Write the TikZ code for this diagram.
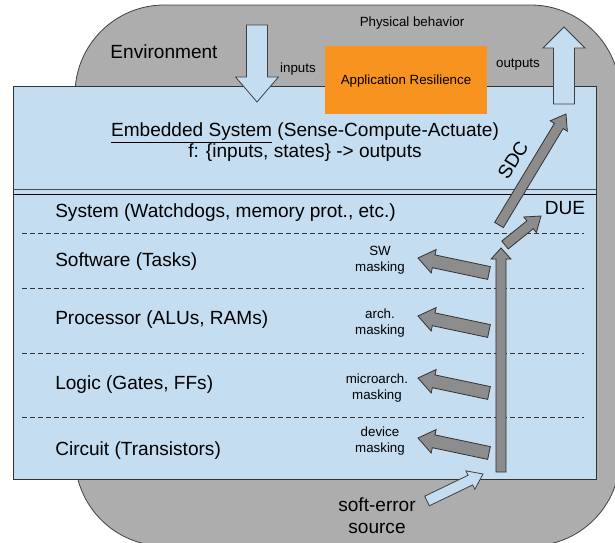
\documentclass[tikz,border=0pt]{standalone}
\usepackage{fontspec}
\setmainfont{Liberation Sans}
\usetikzlibrary{calc}

\definecolor{envgray}{RGB}{173,173,173}
\definecolor{sysblue}{RGB}{197,221,241}
\definecolor{apporange}{RGB}{247,147,30}
\definecolor{maskgray}{RGB}{140,140,140}

\newcommand{\largetxt}{\fontsize{14.3}{16}\selectfont}
\newcommand{\smalltxt}{\fontsize{10}{12}\selectfont}

% [style] tail, tip, shaft half width, head half width, head length
\newcommand{\blockarrow}[6][]{%
  \draw[#1] ($(#2)!#4!90:(#3)$) -- ($(#3)!#6!(#2)!#4!-90:(#2)$)
    -- ($(#3)!#6!(#2)!#5!-90:(#2)$) -- (#3)
    -- ($(#3)!#6!(#2)!#5!90:(#2)$) -- ($(#3)!#6!(#2)!#4!90:(#2)$)
    -- ($(#2)!#4!-90:(#3)$) -- cycle;}

\tikzset{
  bluearrow/.style={fill=sysblue, draw=black!75, line width=0.6pt},
  grayarrow/.style={fill=maskgray, draw=black!80, line width=0.6pt},
  layerline/.style={draw=black!80, line width=0.6pt, dash pattern=on 3.5pt off 2.5pt},
  layerlabel/.style={anchor=west, font=\largetxt, inner sep=0pt},
  masklabel/.style={font=\smalltxt, align=center, inner sep=0pt},
  smalllabel/.style={font=\smalltxt, inner sep=0pt},
  biglabel/.style={font=\largetxt, inner sep=0pt, align=center}
}

\begin{document}
\begin{tikzpicture}[x=0.75pt, y=-0.75pt]
\useasboundingbox (0,0) rectangle (615,543);

% environment and system
\draw[fill=envgray, draw=black!75, line width=0.6pt, rounded corners=67pt] (75,5) rectangle (620,546);
\draw[fill=sysblue, draw=black!80, line width=0.6pt] (13,86) rectangle (596,479);
\fill[apporange] (325,46) rectangle (487,114);

\coordinate (boxL) at (13,189);
\coordinate (boxR) at (596,189);
\draw[black!70, line width=0.6pt] (boxL) -- (boxR);
\draw[black, line width=0.6pt] ($(boxL)+(0,5)$) -- ($(boxR)+(0,5)$);

% layer borders
\foreach \ly in {233, 288, 353, 417}
  \draw[layerline] (22,\ly) -- (584,\ly);

% input / output arrows
\coordinate (inTail) at (257,25);
\coordinate (inTip) at (257,102);
\coordinate (outTail) at (564,104);
\coordinate (outTip) at (564,27);
\blockarrow[bluearrow]{inTail}{inTip}{7.9pt}{16.1pt}{18.8pt}
\blockarrow[bluearrow]{outTail}{outTip}{7.9pt}{15.8pt}{15.8pt}

% masking arrows
\coordinate (swTail) at (489,273);   \coordinate (swTip) at (418,258);
\coordinate (archTail) at (489,331); \coordinate (archTip) at (418,316);
\coordinate (uarchTail) at (489,393); \coordinate (uarchTip) at (418,378);
\coordinate (devTail) at (489,453);  \coordinate (devTip) at (418,438);
\foreach \m in {sw, arch, uarch, dev}{
  \blockarrow[grayarrow]{\m Tail}{\m Tip}{4.9pt}{9pt}{12pt}
}

% error propagation
\coordinate (errTail) at (501,472);
\coordinate (errTip) at (501,248);
\coordinate (dueTail) at (505,245);
\coordinate (dueTip) at (541,216);
\coordinate (sdcTail) at (499,225);
\coordinate (sdcTip) at (566,114);
\blockarrow[grayarrow]{errTail}{errTip}{3.8pt}{7.5pt}{8.3pt}
\blockarrow[grayarrow]{dueTail}{dueTip}{3.8pt}{7.5pt}{10.5pt}
\blockarrow[grayarrow]{sdcTail}{sdcTip}{3.8pt}{7.5pt}{10.5pt}

\coordinate (srcTail) at (427,501);
\coordinate (srcTip) at (483,474);
\blockarrow[bluearrow]{srcTail}{srcTip}{4pt}{7.7pt}{10.5pt}

% texts
\node[biglabel] (env) at (164,52) {Environment};
\node[smalllabel] (phys) at (412,23) {Physical behavior};
\node[smalllabel] (inputs) at (298,69) {inputs};
\node[smalllabel] (outputs) at (518,65) {outputs};
\node[smalllabel] (appres) at (406,81) {Application Resilience};
\node[biglabel] (embsys) at (305,142) {\underline{Embedded System} (Sense-Compute-Actuate)\\f: \{inputs, states\} -> outputs};

\node[layerlabel] (system) at (55,213) {System (Watchdogs, memory prot., etc.)};
\node[layerlabel] (software) at (55,262) {Software (Tasks)};
\node[layerlabel] (processor) at (55,320) {Processor (ALUs, RAMs)};
\node[layerlabel] (logic) at (55,385) {Logic (Gates, FFs)};
\node[layerlabel] (circuit) at (55,451) {Circuit (Transistors)};

\node[masklabel] (swmask) at (380,260) {SW\\masking};
\node[masklabel] (archmask) at (380,323) {arch.\\masking};
\node[masklabel] (uarchmask) at (377,388) {microarch.\\masking};
\node[masklabel] (devmask) at (380,441) {device\\masking};

\node[biglabel] (due) at (565,208) {DUE};
\node[biglabel, rotate=58] (sdc) at (513,160) {SDC};
\node[biglabel, font=\fontsize{14.3}{16.5}\selectfont] (source) at (377,516) {soft-error\\source};

\end{tikzpicture}
\end{document}
